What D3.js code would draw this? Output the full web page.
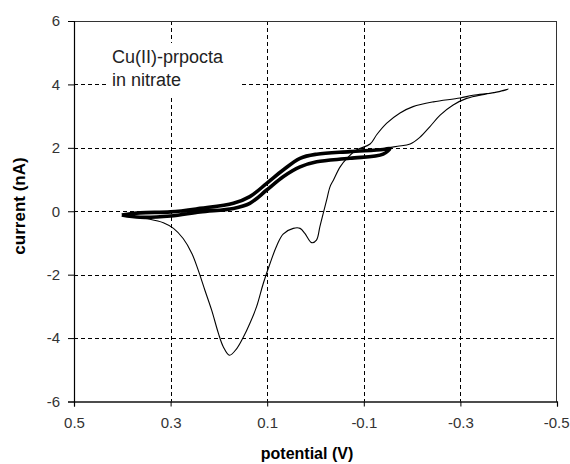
<!DOCTYPE html>
<html>
<head>
<meta charset="utf-8">
<script src="https://cdn.jsdelivr.net/npm/d3@7"></script>
<style>
  html, body { margin: 0; padding: 0; background: #fff; }
  svg { display: block; font-family: "Liberation Sans", Arial, sans-serif; }
</style>
</head>
<body>
<svg id="chart" width="570" height="464"></svg>
<script>
// ---- data ----
const xTicks = [0.5, 0.3, 0.1, -0.1, -0.3, -0.5];
const yTicks = [-6, -4, -2, 0, 2, 4, 6];

// thick loop (repeated cycles between 0.40 V and -0.15 V)
const thickPotential = [0.401, 0.363, 0.30, 0.239, 0.17, 0.136, 0.101, 0.067, 0.032, -0.0025, -0.071, -0.14, -0.154,
                        -0.14, -0.071, -0.0025, 0.032, 0.067, 0.101, 0.136, 0.17, 0.239, 0.30, 0.363, 0.401];
const thickCurrent   = [-0.12, -0.05, -0.02, 0.09, 0.25, 0.46, 0.88, 1.30, 1.67, 1.80, 1.88, 1.95, 1.98,
                        1.80, 1.67, 1.56, 1.40, 1.09, 0.67, 0.25, 0.09, -0.02, -0.15, -0.19, -0.12];

// thin trace (extended scan to -0.40 V and return)
const thinPotential = [-0.15, -0.17, -0.196, -0.216, -0.237, -0.258, -0.285, -0.313, -0.354, -0.385, -0.399,
                       -0.37, -0.326, -0.299, -0.244, -0.202, -0.175, -0.147, -0.127, -0.113, -0.085, -0.065, -0.051,
                       -0.037, -0.03, -0.023, -0.016, -0.009, -0.002, 0.008, 0.022, 0.032, 0.046, 0.067, 0.080,
                       0.094, 0.108, 0.122, 0.136, 0.149, 0.163, 0.178, 0.191, 0.201, 0.215, 0.229, 0.243, 0.256,
                       0.274, 0.294, 0.315, 0.343, 0.384, 0.40];
const thinCurrent   = [2.0, 2.05, 2.12, 2.33, 2.67, 3.03, 3.35, 3.56, 3.70, 3.79, 3.85,
                       3.74, 3.66, 3.57, 3.45, 3.30, 3.10, 2.77, 2.42, 2.12, 1.93, 1.67, 1.40,
                       0.98, 0.77, 0.35, -0.07, -0.49, -0.91, -0.99, -0.70, -0.54, -0.54, -0.72, -1.08,
                       -1.64, -2.27, -3.01, -3.54, -3.96, -4.33, -4.54, -4.27, -3.85, -3.12, -2.49, -1.85, -1.33,
                       -0.86, -0.54, -0.36, -0.25, -0.17, -0.14];

const annotation = ["Cu(II)-prpocta", "in nitrate"];
const xTitle = "potential (V)";
const yTitle = "current (nA)";

// ---- layout ----
const svg = d3.select("#chart");
const L = 74, R = 557, T = 21, B = 401.5;

const x = d3.scaleLinear().domain([0.5, -0.5]).range([L, R]);
const y = d3.scaleLinear().domain([-6, 6]).range([B, T]);

// gridlines
const grid = svg.append("g");
grid.selectAll("line.gx").data(xTicks.filter(d => d !== 0.5 && d !== -0.5)).enter().append("line")
  .attr("x1", d => Math.round(x(d)) + 0.5).attr("x2", d => Math.round(x(d)) + 0.5)
  .attr("y1", T).attr("y2", B)
  .attr("stroke", "#000").attr("stroke-width", 1).attr("stroke-dasharray", "4,3");
grid.selectAll("line.gy").data(yTicks.filter(d => d !== 6 && d !== -6)).enter().append("line")
  .attr("y1", d => Math.round(y(d)) + 0.5).attr("y2", d => Math.round(y(d)) + 0.5)
  .attr("x1", L).attr("x2", R)
  .attr("stroke", "#000").attr("stroke-width", 1).attr("stroke-dasharray", "4,3");

// annotation background box
svg.append("rect").attr("x", 107).attr("y", 43).attr("width", 133).attr("height", 55).attr("fill", "#fff");

// frame
svg.append("rect").attr("x", L + 0.5).attr("y", T + 0.5).attr("width", R - L - 1).attr("height", B - T)
  .attr("fill", "none").attr("stroke", "#333").attr("stroke-width", 1);

// axes
const fmt = d => String(d);
const xAxis = d3.axisBottom(x).tickValues(xTicks).tickSize(5).tickPadding(6).tickFormat(fmt);
const yAxis = d3.axisLeft(y).tickValues(yTicks).tickSize(6).tickPadding(8).tickFormat(fmt);

const gx = svg.append("g").attr("transform", `translate(0,${B})`).call(xAxis);
const gy = svg.append("g").attr("transform", `translate(${L},0)`).call(yAxis);
[gx, gy].forEach(g => {
  g.select(".domain").attr("stroke", "#000").attr("stroke-width", 1.2);
  g.selectAll(".tick line").attr("stroke", "#000");
  g.selectAll(".tick text").attr("font-family", "Liberation Sans, Arial, sans-serif")
    .attr("font-size", 15).attr("fill", "#333");
});
gx.selectAll(".tick text").attr("dy", "1em");
// keep the last label inside the window
gx.selectAll(".tick text").filter(d => d === -0.5).attr("text-anchor", "end").attr("x", 12);

// curves
const line = d3.line().x(d => x(d[0])).y(d => y(d[1])).curve(d3.curveCatmullRom.alpha(0.5));
const thick = thickPotential.map((p, i) => [p, thickCurrent[i]]);
const thin = thinPotential.map((p, i) => [p, thinCurrent[i]]);

svg.append("path").attr("d", line(thin)).attr("fill", "none")
  .attr("stroke", "#000").attr("stroke-width", 1.1).attr("stroke-linejoin", "round");
svg.append("path").attr("d", line(thick)).attr("fill", "none")
  .attr("stroke", "#000").attr("stroke-width", 3.6).attr("stroke-linejoin", "round");

// annotation text
svg.append("g").selectAll("text").data(annotation).enter().append("text")
  .attr("x", 112).attr("y", (d, i) => 63 + i * 23)
  .attr("font-size", 18).attr("fill", "#222").text(d => d);

// titles
svg.append("text").attr("x", 307).attr("y", 459).attr("text-anchor", "middle")
  .attr("font-size", 16).attr("font-weight", "bold").attr("fill", "#000").text(xTitle);
svg.append("text").attr("transform", `translate(25,206) rotate(-90)`).attr("text-anchor", "middle")
  .attr("font-size", 17).attr("font-weight", "bold").attr("fill", "#000").text(yTitle);
</script>
</body>
</html>
